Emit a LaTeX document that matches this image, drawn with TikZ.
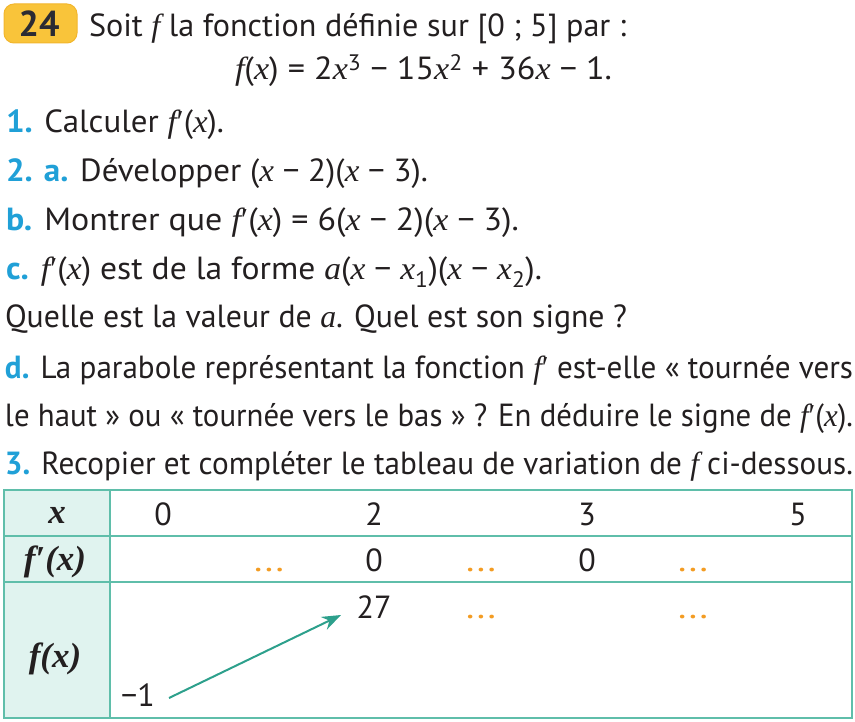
\documentclass[tikz,border=0pt]{standalone}
\usepackage{fontspec}
\setmainfont{PT Sans}
\newfontfamily\mfont{Liberation Serif}
\usepackage{graphicx}
\usetikzlibrary{arrows.meta}
\definecolor{txt}{RGB}{35,31,32}
\definecolor{qblue}{RGB}{32,160,215}
\definecolor{dotor}{RGB}{243,156,35}
\definecolor{gold}{RGB}{249,196,58}
\definecolor{goldedge}{RGB}{242,182,45}
\definecolor{tline}{RGB}{95,190,170}
\definecolor{tfill}{RGB}{224,243,239}
\definecolor{arr}{RGB}{45,160,140}
\definecolor{badgetxt}{RGB}{43,43,51}
\newcommand\mi[1]{{\mfont\itshape #1}}
\newcommand\fp{\mi{f}{\mfont′}}
\newcommand\bl[1]{{\color{qblue}\bfseries #1}}
\newcommand\fit[2]{\resizebox{#1pt}{\height}{#2}}
\newcommand\dts{{\color{dotor}\resizebox{30pt}{\height}{...}}}
\begin{document}
\begin{tikzpicture}[x=1pt,y=-1pt,
  every node/.style={inner sep=0pt,outer sep=0pt,text=txt,font=\fontsize{32}{38}\selectfont},
  txtline/.style={anchor=base west},
  cell/.style={anchor=base},
  hlabel/.style={anchor=base,font=\fontsize{35}{40}\selectfont\mfont\bfseries\itshape},
  grid/.style={draw=tline,line width=2pt},
  arrowline/.style={draw=arr,line width=2pt,-{Stealth[length=19pt,width=14pt]}}]
\useasboundingbox (0,0) rectangle (855,722);
% badge
\node[fill=gold,draw=goldedge,line width=1pt,rounded corners=10pt,minimum width=73pt,minimum height=39pt,anchor=north west] (badge) at (4,4) {};
\node[font=\fontsize{36}{40}\selectfont\bfseries,text=badgetxt] (num) at (39,24) {24};
% text lines
\node[txtline] (l1) at (89,37) {\fit{537}{Soit \mi{f} la fonction définie sur [0 ; 5] par :}};
\node[txtline] (l2) at (235,80) {\fit{377}{\mi{f}(\mi{x}) = 2\mi{x}\textsuperscript{3} − 15\mi{x}\textsuperscript{2} + 36\mi{x} − 1.}};
\node[txtline] (l3) at (6,133) {\fit{218}{\bl{1.} Calculer \fp(\mi{x}).}};
\node[txtline] (l4) at (6,182) {\fit{422}{\bl{2. a.} Développer (\mi{x} − 2)(\mi{x} − 3).}};
\node[txtline] (l5) at (6,231) {\fit{513}{\bl{b.} Montrer que \fp(\mi{x}) = 6(\mi{x} − 2)(\mi{x} − 3).}};
\node[txtline] (l6) at (6,280) {\fit{536}{\bl{c.} \fp(\mi{x}) est de la forme \mi{a}(\mi{x} − \mi{x}\textsubscript{1})(\mi{x} − \mi{x}\textsubscript{2}).}};
\node[txtline] (l7) at (5,328) {\fit{622}{Quelle est la valeur de \mi{a}. Quel est son signe ?}};
\node[txtline] (l8) at (5,378) {\fit{848}{\bl{d.} La parabole représentant la fonction \fp{} est-elle « tournée vers}};
\node[txtline] (l9) at (5,426) {\fit{848}{le haut » ou « tournée vers le bas » ? En déduire le signe de \fp(\mi{x}).}};
\node[txtline] (l10) at (5,474) {\fit{848}{\bl{3.} Recopier et compléter le tableau de variation de \mi{f} ci-dessous.}};
% table
\coordinate (tl) at (4,490);
\coordinate (br) at (852,718);
\coordinate (c1t) at (110,490);
\coordinate (c1b) at (110,718);
\coordinate (r1l) at (4,536);
\coordinate (r1r) at (852,536);
\coordinate (r2l) at (4,582);
\coordinate (r2r) at (852,582);
\fill[tfill] (tl) rectangle (c1b);
\draw[grid] (tl) rectangle (br);
\draw[grid] (r1l) -- (r1r);
\draw[grid] (r2l) -- (r2r);
\draw[grid] (c1t) -- (c1b);
% headers
\node[hlabel] (hx) at (57,523) {x};
\node[hlabel] (hfp) at (55,570) {f′(x)};
\node[hlabel] (hf) at (55,667) {f(x)};
% x row
\node[cell] (x0) at (163,525) {0};
\node[cell] (x2) at (374,525) {2};
\node[cell] (x3) at (587,525) {3};
\node[cell] (x5) at (798,525) {5};
% f' row
\node[cell] (d1) at (269,571) {\dts};
\node[cell] (z2) at (374,571) {0};
\node[cell] (d2) at (481,571) {\dts};
\node[cell] (z3) at (587,571) {0};
\node[cell] (d3) at (693,571) {\dts};
% f row
\node[cell] (m1) at (138,706) {−1};
\node[cell] (v27) at (374,618) {27};
\node[cell] (d4) at (481,618) {\dts};
\node[cell] (d5) at (693,618) {\dts};
\coordinate (a1) at (169,698);
\coordinate (a2) at (341,615);
\draw[arrowline] (a1) -- (a2);
\end{tikzpicture}
\end{document}
